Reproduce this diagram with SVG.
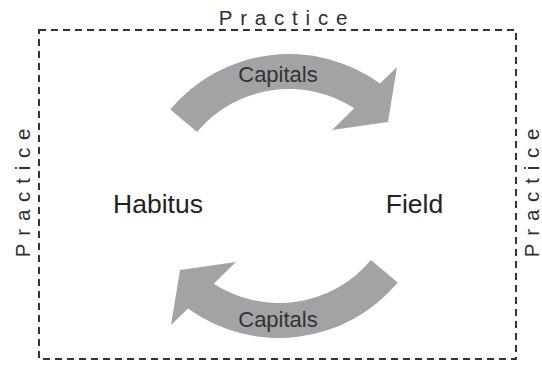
<svg xmlns="http://www.w3.org/2000/svg" width="542" height="365" viewBox="0 0 542 365">
  <style>
    .frame { fill: none; stroke: #333; stroke-width: 2; stroke-dasharray: 7 5; }
    .practice { font-family: "Liberation Sans", Arial, sans-serif; font-size: 20.5px; letter-spacing: 7.8px; fill: #2e2e2e; }
    .node { font-family: "Liberation Sans", Arial, sans-serif; font-size: 26.5px; fill: #222; text-anchor: middle; }
    .cap { font-family: "Liberation Sans", Arial, sans-serif; font-size: 22px; fill: #333; text-anchor: middle; }
    .flow { fill: #a3a3a6; }
  </style>
  <defs>
    <!-- curved block arrow sweeping clockwise from left to right over the top -->
    <path id="arc-arrow" class="flow" d="M170.3,109.4 A155,155 0 0 1 380,83.5 L397,67 L388,122 L332,130 L354.3,108.3 A120,120 0 0 0 197.1,131.9 Z"/>
  </defs>

  <!-- dashed boundary of the field of practice -->
  <rect class="frame" x="39" y="30" width="477" height="329"/>

  <text class="practice" x="287" y="25" text-anchor="middle">Practice</text>
  <text class="practice" x="0" y="0" text-anchor="middle" transform="translate(30 189) rotate(-90)">Practice</text>
  <text class="practice" x="0" y="0" text-anchor="middle" transform="translate(539 189) rotate(-90)">Practice</text>

  <g id="connectors">
    <g id="capitals-top">
      <use href="#arc-arrow"/>
      <text class="cap" x="278" y="82">Capitals</text>
    </g>
    <g id="capitals-bottom">
      <use href="#arc-arrow" transform="rotate(180 284 196)"/>
      <text class="cap" x="278" y="327">Capitals</text>
    </g>
  </g>

  <g id="habitus">
    <text class="node" x="158" y="213">Habitus</text>
  </g>
  <g id="field">
    <text class="node" x="414.5" y="213">Field</text>
  </g>
</svg>
